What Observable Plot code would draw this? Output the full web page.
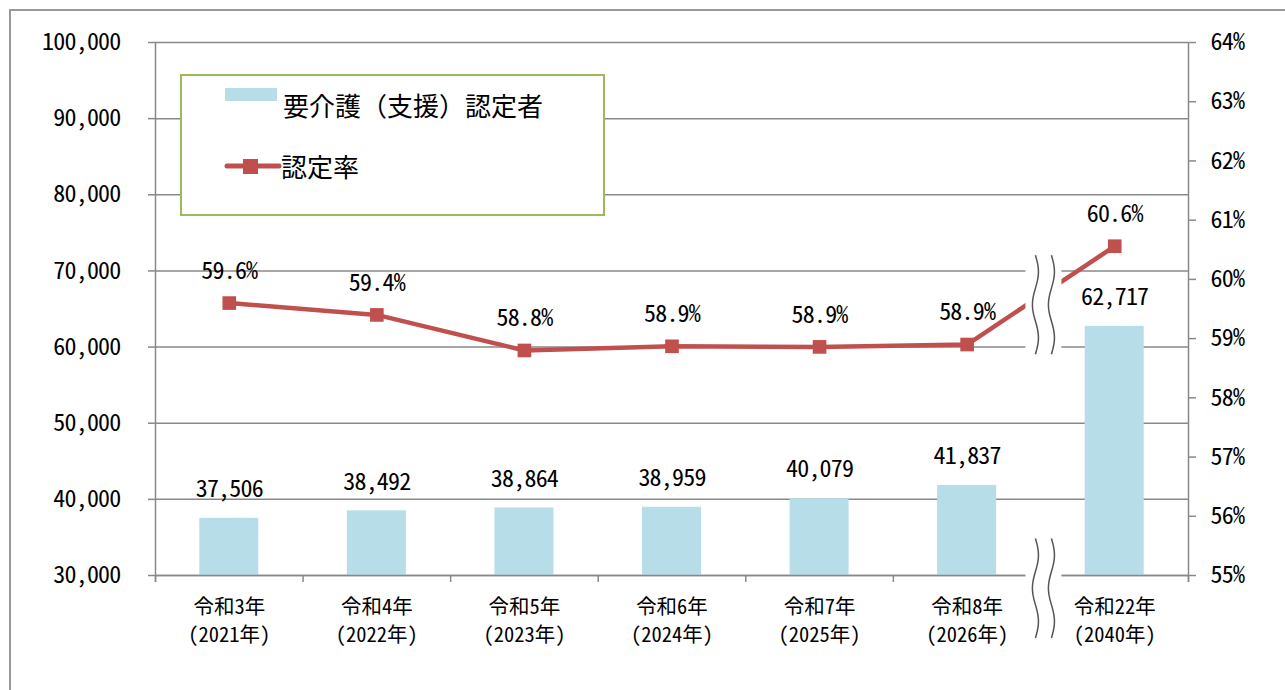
<!DOCTYPE html>
<html><head><meta charset="utf-8">
<script src="https://cdn.jsdelivr.net/npm/d3@7"></script>
<script src="https://cdn.jsdelivr.net/npm/@observablehq/plot@0.6"></script>
<style>
html,body{margin:0;padding:0;background:#fff;overflow:hidden;}
#wrap{position:relative;width:1285px;height:690px;overflow:hidden;font-family:"Noto Sans CJK JP",sans-serif;}
#frame{position:absolute;left:9px;top:9px;width:1300px;height:720px;border:2px solid #999;box-sizing:border-box;}
#wrap svg{position:absolute;left:0;top:0;}
#wrap svg text{font-feature-settings:"hwid" 1;letter-spacing:-0.8px;}
#wrap svg g[aria-label="x-axis tick label"] text{letter-spacing:0;}
#legend{position:absolute;left:180px;top:74px;width:425px;height:142px;border:2px solid #9BBB59;box-sizing:border-box;background:#fff;font-size:26px;color:#000;}
.lg{position:absolute;line-height:30px;white-space:nowrap;}
</style></head>
<body><div id="wrap"><div id="frame"></div></div>
<script>
const periods = ["令和3年","令和4年","令和5年","令和6年","令和7年","令和8年","令和22年"];
const years = ["（2021年）","（2022年）","（2023年）","（2024年）","（2025年）","（2026年）","（2040年）"];
const certified = [37506, 38492, 38864, 38959, 40079, 41837, 62717];
const rates = [59.6, 59.4, 58.8, 58.87, 58.86, 58.9, 60.56];
const leftTicks = [30000, 40000, 50000, 60000, 70000, 80000, 90000, 100000];
const rightTicks = [55, 56, 57, 58, 59, 60, 61, 62, 63, 64];
const seriesNames = ["要介護（支援）認定者", "認定率"];

const idx = d3.range(periods.length);
const boundaries = d3.range(-0.5, periods.length, 1);
const rateToCount = r => 30000 + (r - 55) * (70000 / 9);
const countToRate = v => 55 + (v - 30000) * 9 / 70000;
const gray = "#888";
const fmt = d3.format(",");
const numSize = 24;

const plot = Plot.plot({
  width: 1285, height: 690,
  marginLeft: 155, marginRight: 97, marginTop: 42, marginBottom: 115,
  x: {type: "linear", domain: [-0.5, 6.5], axis: null},
  y: {domain: [30000, 100000], axis: null},
  style: {fontFamily: '"Noto Sans CJK JP", sans-serif', fontSize: numSize + "px", color: "#000", background: "transparent", overflow: "visible"},
  marks: [
    Plot.gridY(leftTicks, {stroke: gray, strokeOpacity: 1, strokeWidth: 1.5}),
    Plot.rect(idx, {x1: i => i - 0.2, x2: i => i + 0.2, y1: 30000, y2: i => certified[i], fill: "#B7DDE8"}),
    Plot.ruleX([-0.5, 6.5], {y1: 100000, y2: 30000, insetBottom: -7, stroke: gray, strokeWidth: 1.5}),
    Plot.ruleY([30000], {x1: -0.5, x2: 6.5, stroke: gray, strokeWidth: 1.5}),
    Plot.ruleX(boundaries, {y1: 30000, y2: 30000, insetBottom: -7, stroke: gray, strokeWidth: 1.5}),
    Plot.axisY(leftTicks, {anchor: "left", tickFormat: fmt, tickSize: 7, tickPadding: 28, stroke: gray, strokeWidth: 1.5, fill: "#000", fontSize: numSize, label: null}),
    Plot.axisY(rightTicks.map(rateToCount), {anchor: "right", tickFormat: v => Math.round(countToRate(v)) + "%", tickSize: 7, tickPadding: 15, stroke: gray, strokeWidth: 1.5, fill: "#000", fontSize: numSize, label: null}),
    Plot.axisX(idx, {anchor: "bottom", tickFormat: i => periods[i] + "\n" + years[i], tickSize: 0, tickPadding: 18, fontSize: 20.5, lineHeight: 1.38, fill: "#000", label: null}),
    Plot.line(idx, {x: i => i, y: i => rateToCount(rates[i]), stroke: "#C0504D", strokeWidth: 4.5}),
    Plot.dot(idx, {x: i => i, y: i => rateToCount(rates[i]), symbol: "square", r: 7.7, fill: "#C0504D", stroke: null}),
    Plot.text(idx, {x: i => i, y: i => certified[i], text: i => fmt(certified[i]), dy: -29, fontSize: numSize, lineAnchor: "middle", fill: "#000"}),
    Plot.text(idx, {x: i => i, y: i => rateToCount(rates[i]), text: i => rates[i].toFixed(1) + "%", dy: -32, fontSize: numSize, lineAnchor: "middle", fill: "#000"})
  ]
});

document.getElementById("wrap").appendChild(plot);

// axis break decoration between the last two categories
const xs = plot.scale("x"), ys = plot.scale("y");
const svg = d3.select(plot);
const bx = xs.apply(5.5) + 3;
function drawBreak(yTop, yBot) {
  const g = svg.append("g");
  g.append("rect").attr("x", bx - 18).attr("y", yTop).attr("width", 36).attr("height", yBot - yTop).attr("fill", "#fff");
  for (const off of [-8, 8]) {
    const pts = d3.range(0, 1.0001, 0.02).map(t => [bx + off + 3 * Math.sin(t * Math.PI * 3), yTop + t * (yBot - yTop)]);
    g.append("path").attr("d", d3.line()(pts)).attr("fill", "none").attr("stroke", "#555").attr("stroke-width", 1.5);
  }
}
drawBreak(ys.apply(72000), ys.apply(59000));
drawBreak(ys.apply(34800), ys.apply(30000) + 63);

// legend
const lg = document.createElement("div");
lg.id = "legend";
lg.innerHTML = `
<svg width="100" height="120" style="position:absolute;left:0;top:0">
  <rect x="43" y="12" width="52" height="13" fill="#B7DDE8"></rect>
  <line x1="45" x2="97" y1="90" y2="90" stroke="#C0504D" stroke-width="5" stroke-linecap="round"></line>
  <rect x="61" y="83" width="15" height="15" fill="#C0504D"></rect>
</svg>
<div class="lg" style="top:14px;left:101px">${seriesNames[0]}</div>
<div class="lg" style="top:75px;left:99px">${seriesNames[1]}</div>`;
document.getElementById("wrap").appendChild(lg);
</script>
</body></html>
